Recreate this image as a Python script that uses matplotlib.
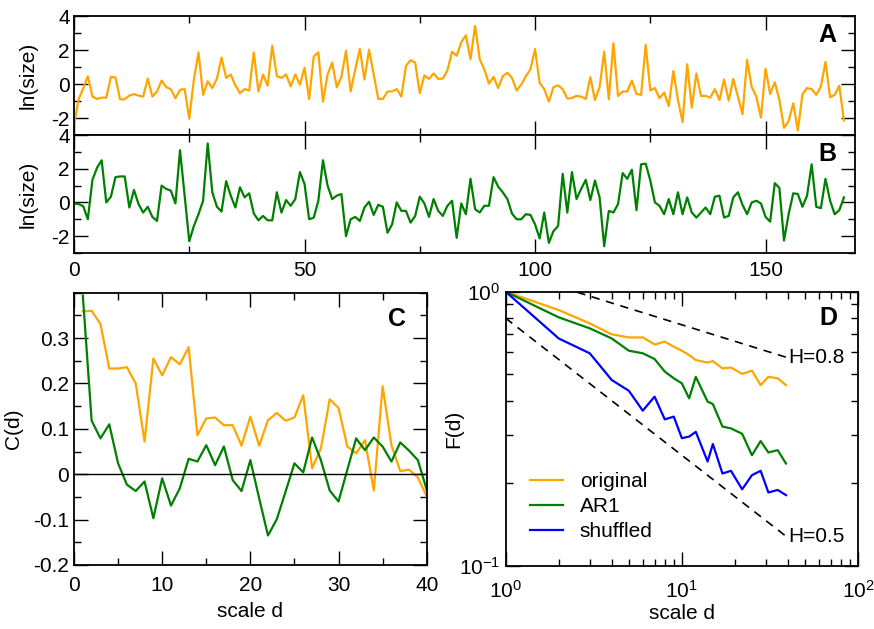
import matplotlib
matplotlib.use("Agg")
import matplotlib.pyplot as plt
import numpy as np
from matplotlib.ticker import MultipleLocator, FixedLocator, NullFormatter, LogLocator

plt.rcParams['font.family'] = ['Liberation Sans', 'DejaVu Sans']
plt.rcParams['font.size'] = 15
plt.rcParams['axes.unicode_minus'] = False

# ---------------- data ----------------
size_original = [
    -2.4, -0.9, -0.25, 0.46, -0.74, -0.88, -0.8, -0.8, 0.42, 0.38,
    -0.9, -0.9, -0.68, -0.6, -0.68, -0.74, 0.32, -0.74, -0.44, 0.2,
    -0.18, -0.3, -0.84, -0.34, -0.3, -2.04, 0.26, 1.86, -0.64, 0.16,
    -0.24, 0.32, 1.56, 0.36, 0.56, -0.08, -0.54, -0.3, -0.38, 1.86,
    -0.44, 0.56, -0.1, 2.26, 0.46, 0.36, 0.56, -0.14, 0.56, -0.04,
    0.96, -0.88, 1.62, 1.86, -1.04, 0.56, 1.26, -0.2, 0.42, 1.96,
    -0.44, 0.86, 2.06, 0.26, 2.02, 0.56, -0.88, -0.88, -0.44, -0.44,
    -0.3, -0.74, 1.06, 1.4, 1.26, -0.54, 0.5, 0.3, 0.62, 0.3,
    0.32, 0.8, 1.9, 1.66, 2.46, 2.86, 1.46, 3.42, 1.46, 0.86,
    0.02, 0.42, -0.24, 0.46, 0.66, 0.36, -0.38, -0.04, 0.46, 0.86,
    2.06, 0.06, -0.3, -1.04, -0.18, -0.08, -0.3, -0.86, -0.82, -0.7,
    -0.74, -0.88, 0.4, -0.94, -0.18, 1.9, -0.9, 2.4, -0.7, -0.44,
    -0.44, 0.2, -0.58, -0.64, 2.3, -0.38, -0.24, -0.84, -0.5, -1.3,
    0.76, -0.94, -2.24, 1.16, -1.38, 0.62, -0.7, -0.7, -0.8, -0.3,
    -0.94, 0.26, -0.98, 0.3, -0.74, -1.78, 1.42, -0.18, -0.74, -1.98,
    0.9, -0.58, 0.1, -0.94, -2.58, -2.18, -1.14, -2.74, -0.6, -0.24,
    -0.3, -0.64, -0.14, 1.3, -0.78, -0.64, -0.1, -2.14,
]

size_ar1 = [
    -0.06, -0.1, -0.22, -1.0, 1.34, 2.06, 2.5, 0.0, 0.34, 1.5,
    1.54, 1.54, -0.3, 0.74, -0.1, -0.6, -0.26, -0.86, -1.1, 1.0,
    0.8, 0.7, -0.06, 3.1, 0.4, -2.3, -1.4, -0.7, 0.1, 3.5,
    0.6, -0.26, -0.54, 1.26, 0.4, -0.3, 0.9, 0.3, 0.54, -0.66,
    -1.06, -0.8, -1.06, -1.06, 0.6, -0.6, 0.14, -0.2, 0.2, 1.8,
    1.1, -1.0, -0.9, 0.1, 2.5, 1.0, 0.2, 0.4, 0.5, -2.0,
    -1.0, -0.86, -1.1, -0.3, 0.04, -0.74, -0.14, -0.26, -1.8, -1.3,
    0.0, -0.5, -0.5, -1.2, -0.8, 0.34, -0.06, -0.86, 0.2, -0.5,
    -0.8, -0.2, 0.1, -2.1, -0.06, -0.7, 1.4, -0.4, -0.6, -0.2,
    -0.2, 1.5, 0.94, 0.6, 0.2, -0.66, -1.0, -1.0, -0.7, -0.74,
    -1.3, -2.14, -0.6, -2.4, -1.7, -1.4, 1.7, -0.6, 1.8, 0.2,
    0.8, 1.34, 0.14, 1.3, 0.3, -2.6, -0.5, -0.6, -0.1, 1.74,
    1.4, 1.94, -0.46, 2.26, 2.3, 1.3, 0.0, -0.2, -0.7, 0.2,
    -0.7, 0.6, -0.7, 0.3, -0.6, -0.9, -0.6, -0.3, -0.7, 0.34,
    0.4, -0.9, -0.8, 0.3, 0.6, -0.14, -0.7, 0.0, 0.1, -0.06,
    -0.86, -1.14, 1.14, 0.86, -2.26, -0.7, 0.54, 0.5, -0.26, 0.4,
    2.26, -0.26, -0.34, 1.4, 0.1, -0.7, -0.46, 0.3,
]

lag_d = list(range(1, 41))
corr_original = [0.359, 0.36, 0.331, 0.233, 0.233, 0.236, 0.2, 0.072, 0.255, 0.218,
                 0.258, 0.242, 0.28, 0.086, 0.123, 0.125, 0.108, 0.108, 0.063, 0.127,
                 0.063, 0.119, 0.135, 0.118, 0.125, 0.174, 0.013, 0.057, 0.165, 0.146,
                 0.061, 0.046, 0.075, -0.036, 0.194, 0.064, 0.007, 0.01, -0.007, -0.049]
corr_ar1 = [0.394, 0.118, 0.079, 0.11, 0.024, -0.023, -0.037, -0.016, -0.097, -0.009,
            -0.069, -0.031, 0.034, 0.028, 0.064, 0.02, 0.061, -0.013, -0.037, 0.031,
            -0.053, -0.135, -0.099, -0.038, 0.024, 0.004, 0.081, 0.031, -0.036, -0.06,
            0.01, 0.079, 0.053, 0.081, 0.061, 0.028, 0.07, 0.052, 0.031, -0.034]

scale_d = [1, 2, 3, 4, 5, 6, 7, 8, 9, 10, 11, 12, 14, 15, 17, 19, 22, 25, 28, 31, 35, 39]
F_original = [1.0, 0.857, 0.766, 0.699, 0.681, 0.681, 0.642, 0.657, 0.630, 0.609, 0.587,
              0.563, 0.551, 0.558, 0.525, 0.529, 0.501, 0.515, 0.456, 0.489, 0.483, 0.456]
F_ar1 = [1.0, 0.806, 0.735, 0.675, 0.609, 0.596, 0.568, 0.511, 0.483, 0.463, 0.408,
         0.489, 0.397, 0.389, 0.322, 0.317, 0.303, 0.253, 0.285, 0.259, 0.264, 0.236]
F_shuffled = [1.0, 0.675, 0.596, 0.476, 0.435, 0.368, 0.414, 0.342, 0.350, 0.292, 0.296,
              0.308, 0.240, 0.278, 0.217, 0.222, 0.190, 0.214, 0.222, 0.185, 0.189, 0.181]

guide_d = [1, 39]
H_values = [0.8, 0.5]
H_prefactor = [1.2, 0.8]

ORANGE = '#FFA500'
GREEN = '#008000'
BLUE = '#0000FF'

W, H = 874, 629
fig = plt.figure(figsize=(W / 100, H / 100), dpi=100)


def rect(l, r, t, b):
    return [l / W, 1 - b / H, (r - l) / W, (b - t) / H]


def style(ax):
    ax.tick_params(which='both', direction='in', top=True, right=True, width=1.0)
    ax.tick_params(which='major', length=10, labelsize=15)
    ax.tick_params(which='minor', length=5)
    for s in ax.spines.values():
        s.set_linewidth(1.3)


axA = fig.add_axes(rect(74, 855, 16, 135))
axB = fig.add_axes(rect(74, 855, 135, 253))
axC = fig.add_axes(rect(74, 426.7, 292.7, 565))
axD = fig.add_axes(rect(505.7, 858, 291.7, 565.7))

t = np.arange(len(size_original))
axA.plot(t, size_original, color=ORANGE, lw=1.6)
axB.plot(np.arange(len(size_ar1)), size_ar1, color=GREEN, lw=1.6)

for ax, letter in ((axA, 'A'), (axB, 'B')):
    style(ax)
    ax.set_xlim(0, 169.4)
    ax.set_ylim(-3, 4)
    ax.xaxis.set_major_locator(MultipleLocator(50))
    ax.xaxis.set_minor_locator(MultipleLocator(25))
    ax.yaxis.set_major_locator(FixedLocator([-2, 0, 2, 4]))
    ax.yaxis.set_minor_locator(MultipleLocator(1))
    ax.tick_params(axis='y', pad=3)
    ax.set_ylabel('ln(size)', fontsize=15)
    ax.text(0.965, 0.84, letter, transform=ax.transAxes, fontsize=18,
            fontweight='bold', ha='center', va='center')
axA.tick_params(labelbottom=False)
axB.tick_params(axis='x', pad=6)
axA.yaxis.set_label_coords(-0.047, 0.5)
axB.yaxis.set_label_coords(-0.047, 0.5)

# C
style(axC)
axC.plot(lag_d, corr_original, color=ORANGE, lw=1.6)
axC.plot(lag_d, corr_ar1, color=GREEN, lw=1.6)
axC.axhline(0, color='black', lw=1.0)
axC.set_xlim(0, 40)
axC.set_ylim(-0.2, 0.4)
axC.xaxis.set_major_locator(MultipleLocator(10))
axC.xaxis.set_minor_locator(MultipleLocator(5))
axC.yaxis.set_major_locator(FixedLocator([-0.2, -0.1, 0, 0.1, 0.2, 0.3]))
axC.yaxis.set_minor_locator(MultipleLocator(0.05))
axC.set_yticklabels(['-0.2', '-0.1', '0', '0.1', '0.2', '0.3'])
axC.tick_params(axis='x', pad=8)
axC.set_xlabel('scale d', fontsize=15, labelpad=5)
axC.set_ylabel('C(d)', fontsize=15)
axC.yaxis.set_label_coords(-0.145, 0.5)
axC.text(0.915, 0.905, 'C', transform=axC.transAxes, fontsize=18,
         fontweight='bold', ha='center', va='center')

# D
axD.set_xscale('log')
axD.set_yscale('log')
style(axD)
axD.plot(scale_d, F_original, color=ORANGE, lw=1.6, label='original')
axD.plot(scale_d, F_ar1, color=GREEN, lw=1.6, label='AR1')
axD.plot(scale_d, F_shuffled, color=BLUE, lw=1.6, label='shuffled')
gd = np.array(guide_d, dtype=float)
for hv, pf in zip(H_values, H_prefactor):
    axD.plot(gd, pf * gd ** (hv - 1), color='black', lw=1.2, ls=(0, (5, 4)))
    axD.text(gd[-1] * 1.03, pf * gd[-1] ** (hv - 1), 'H=%.1f' % hv,
             fontsize=15, ha='left', va='center')
axD.set_xlim(1, 100)
axD.set_ylim(0.1, 1)
axD.xaxis.set_minor_locator(LogLocator(base=10, subs=np.arange(2, 10)))
axD.yaxis.set_minor_locator(LogLocator(base=10, subs=np.arange(2, 10)))
axD.xaxis.set_minor_formatter(NullFormatter())
axD.yaxis.set_minor_formatter(NullFormatter())
axD.tick_params(axis='x', pad=10)
axD.tick_params(axis='y', pad=4)
axD.set_xlabel('scale d', fontsize=15, labelpad=2)
axD.set_ylabel('F(d)', fontsize=15)
axD.yaxis.set_label_coords(-0.12, 0.5)
axD.text(0.915, 0.905, 'D', transform=axD.transAxes, fontsize=18,
         fontweight='bold', ha='center', va='center')
axD.legend(loc='lower left', bbox_to_anchor=(0.015, 0.022), frameon=False,
           fontsize=15, handlelength=1.6, handletextpad=0.8, labelspacing=0.28)

fig.savefig('out.png', dpi=100)
